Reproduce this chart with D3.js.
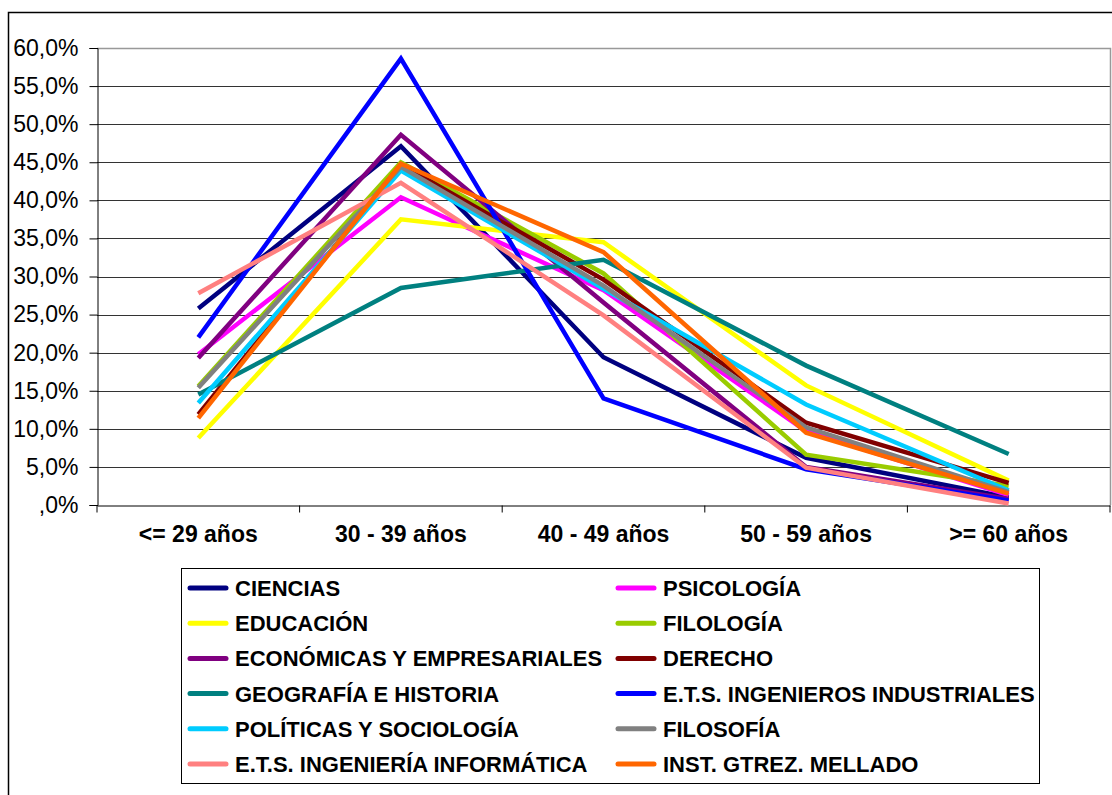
<!doctype html>
<html lang="es">
<head>
  <meta charset="utf-8">
  <script src="https://d3js.org/d3.v7.min.js"></script>
  <style>
    body { margin: 0; background: #fff; }
    svg { display: block; font-family: "Liberation Sans", Arial, sans-serif; }
  </style>
</head>
<body>
<script>
  // categorias del eje x
  var edades = ["<= 29 años", "30 - 39 años", "40 - 49 años", "50 - 59 años", ">= 60 años"];
  var yTicks = [0, 0.05, 0.10, 0.15, 0.20, 0.25, 0.30, 0.35, 0.40, 0.45, 0.50, 0.55, 0.60];

  // series (orden de la leyenda, fila a fila)
  var centros = ["CIENCIAS", "PSICOLOGÍA", "EDUCACIÓN", "FILOLOGÍA",
    "ECONÓMICAS Y EMPRESARIALES", "DERECHO", "GEOGRAFÍA E HISTORIA",
    "E.T.S. INGENIEROS INDUSTRIALES", "POLÍTICAS Y SOCIOLOGÍA", "FILOSOFÍA",
    "E.T.S. INGENIERÍA INFORMÁTICA", "INST. GTREZ. MELLADO"];
  var colores = ["#000080", "#FF00FF", "#FFFF00", "#99CC00", "#800080", "#800000",
    "#008080", "#0000FF", "#00CCFF", "#808080", "#FF8080", "#FF6600"];

  var ciencias      = [0.258, 0.471, 0.194, 0.062, 0.010];
  var psicologia    = [0.198, 0.404, 0.282, 0.097, 0.013];
  var educacion     = [0.088, 0.375, 0.345, 0.157, 0.032];
  var filologia     = [0.156, 0.450, 0.304, 0.066, 0.025];
  var economicas    = [0.193, 0.486, 0.266, 0.050, 0.008];
  var derecho       = [0.119, 0.447, 0.296, 0.108, 0.029];
  var geografia     = [0.145, 0.285, 0.322, 0.183, 0.067];
  var industriales  = [0.220, 0.586, 0.140, 0.047, 0.006];
  var politicas     = [0.134, 0.439, 0.284, 0.132, 0.019];
  var filosofia     = [0.154, 0.444, 0.288, 0.102, 0.017];
  var informatica   = [0.278, 0.423, 0.249, 0.049, 0.002];
  var mellado       = [0.114, 0.448, 0.332, 0.095, 0.015];

  var valores = [ciencias, psicologia, educacion, filologia, economicas, derecho,
    geografia, industriales, politicas, filosofia, informatica, mellado];

  var w = 1112, h = 795;
  var svg = d3.select("body").append("svg").attr("width", w).attr("height", h);

  // marco exterior del grafico
  svg.append("rect").attr("x", 8.5).attr("y", 12.5).attr("width", 1200).attr("height", 900)
    .attr("fill", "none").attr("stroke", "#000").attr("stroke-width", 1.5);

  var pLeft = 97, pRight = 1110, pTop = 48, pBottom = 505;
  var x = d3.scaleBand().domain(edades).range([pLeft, pRight]);
  var y = d3.scaleLinear().domain([0, 0.6]).range([pBottom, pTop]);
  var fmt = function(v){ return v === 0 ? ",0%" : (v * 100).toFixed(1).replace(".", ",") + "%"; };

  // lineas de division
  svg.append("g").selectAll("line").data(yTicks.filter(function(d){ return d > 0 && d < 0.6; }))
    .enter().append("line")
    .attr("x1", pLeft).attr("x2", pRight)
    .attr("y1", function(d){ return Math.round(y(d)) + 0.5; })
    .attr("y2", function(d){ return Math.round(y(d)) + 0.5; })
    .attr("stroke", "#333").attr("stroke-width", 1);

  // borde gris del area de trazado
  svg.append("path")
    .attr("d", "M" + pLeft + "," + (pTop + 0.5) + "H" + (pRight + 0.5) + "V" + pBottom)
    .attr("fill", "none").attr("stroke", "#999").attr("stroke-width", 1.5);

  // eje y
  var yAxis = svg.append("g").attr("transform", "translate(" + (pLeft + 0.5) + ",0)")
    .call(d3.axisLeft(y).tickValues(yTicks).tickFormat(fmt).tickSize(8).tickPadding(11));
  yAxis.select(".domain").attr("stroke", "#000");
  yAxis.selectAll(".tick line").attr("stroke", "#000");
  yAxis.selectAll("text").attr("font-size", "23px").attr("fill", "#000")
    .attr("font-family", "'Liberation Sans', Arial, sans-serif");

  // eje x
  var xAxis = svg.append("g").attr("transform", "translate(0," + (pBottom + 0.5) + ")")
    .call(d3.axisBottom(x).tickSize(0).tickPadding(20));
  xAxis.select(".domain").attr("stroke", "#000");
  xAxis.selectAll("text").attr("font-size", "23px").attr("font-weight", "bold").attr("fill", "#000")
    .attr("font-family", "'Liberation Sans', Arial, sans-serif");
  var bordes = [pLeft].concat(edades.map(function(d){ return x(d) + x.bandwidth(); }));
  xAxis.selectAll(".sep").data(bordes).enter().append("line")
    .attr("x1", function(d){ return d; }).attr("x2", function(d){ return d; })
    .attr("y1", 0).attr("y2", 7).attr("stroke", "#000");

  // series
  var linea = d3.line()
    .x(function(d, i){ return x(edades[i]) + x.bandwidth() / 2; })
    .y(function(d){ return y(d); });

  svg.append("g").selectAll("path").data(valores).enter().append("path")
    .attr("d", linea)
    .attr("fill", "none")
    .attr("stroke", function(d, i){ return colores[i]; })
    .attr("stroke-width", 4.5)
    .attr("stroke-linejoin", "miter");

  // leyenda
  var leg = svg.append("g");
  leg.append("rect").attr("x", 181.5).attr("y", 568.5).attr("width", 858).attr("height", 215)
    .attr("fill", "#fff").attr("stroke", "#000").attr("stroke-width", 1);

  var items = leg.selectAll(".item").data(centros).enter().append("g")
    .attr("transform", function(d, i){
      var col = i % 2, row = Math.floor(i / 2);
      return "translate(" + (col === 0 ? 188 : 616) + "," + (588 + row * 35.2) + ")";
    });
  items.append("line").attr("x1", 2).attr("x2", 38).attr("y1", 0).attr("y2", 0)
    .attr("stroke", function(d, i){ return colores[i]; })
    .attr("stroke-width", 5).attr("stroke-linecap", "round");
  items.append("text").attr("x", 47).attr("y", 0).attr("dy", "0.36em")
    .attr("font-size", "22px").attr("font-weight", "bold").attr("fill", "#000")
    .text(function(d){ return d; });
</script>
</body>
</html>
